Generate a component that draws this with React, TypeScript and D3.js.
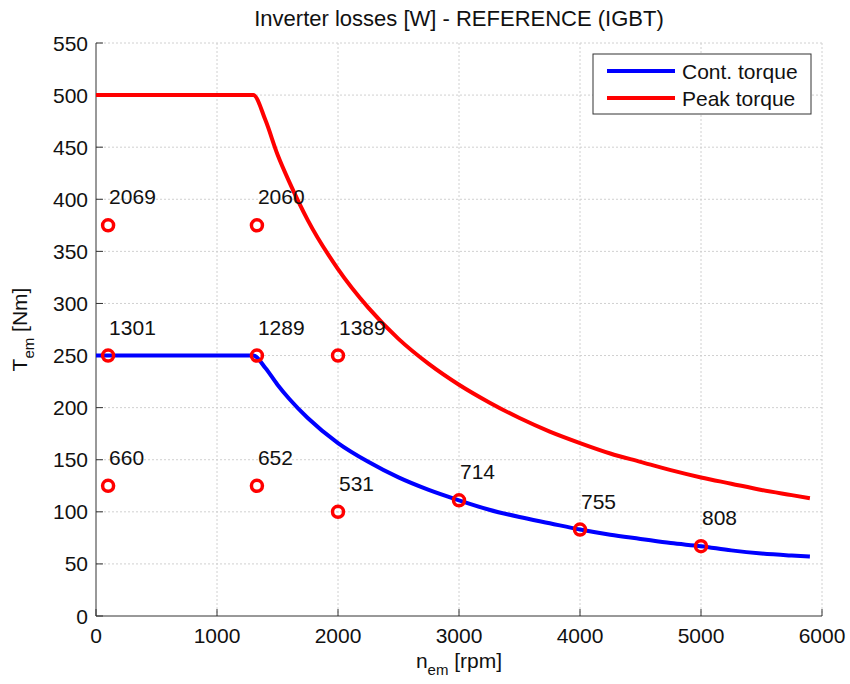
import React, { useEffect, useRef } from 'react';
import * as d3 from 'd3';

const speedRpm = [0, 1300, 1400, 1500, 1600, 1750, 2000, 2250, 2500, 2750, 3000, 3250, 3500, 3750, 4000, 4250, 4500, 4750, 5000, 5250, 5500, 5750, 5900];
const peakTorque = [500, 500, 476, 443, 416, 380, 333, 296, 266, 242, 222, 205, 190, 177, 166, 156, 148, 140, 133, 127, 121, 116, 113];
const contTorque = [250, 250, 238, 222, 208, 190, 166, 148, 133, 121, 111, 102, 95, 89, 83, 78, 74, 70, 67, 63, 60, 58, 57];

const pointRpm = [100, 1330, 100, 1330, 2000, 100, 1330, 2000, 3000, 4000, 5000];
const pointTorque = [375, 375, 250, 250, 250, 125, 125, 100, 111, 83, 67];
const pointLosses = ['2069', '2060', '1301', '1289', '1389', '660', '652', '531', '714', '755', '808'];

const xTicks = [0, 1000, 2000, 3000, 4000, 5000, 6000];
const yTicks = [0, 50, 100, 150, 200, 250, 300, 350, 400, 450, 500, 550];

const App: React.FC = () => {
  const svgRef = useRef<SVGSVGElement>(null);

  useEffect(() => {
    if (!svgRef.current) return;
    const svg = d3.select(svgRef.current);
    svg.selectAll('*').remove();

    const left = 96, right = 822, top = 43, bottom = 616;
    const x = d3.scaleLinear().domain([0, 6000]).range([left, right]);
    const y = d3.scaleLinear().domain([0, 550]).range([bottom, top]);
    const font = 'Liberation Sans, Arial, sans-serif';
    const fs = 21;

    svg.append('rect').attr('width', 850).attr('height', 684).attr('fill', '#fff');

    // grid
    const grid = svg.append('g').attr('stroke', '#d0d0d0').attr('stroke-dasharray', '2,2').attr('stroke-width', 1);
    xTicks.slice(1).forEach(t => {
      grid.append('line').attr('x1', x(t)).attr('x2', x(t)).attr('y1', top).attr('y2', bottom);
    });
    yTicks.slice(1).forEach(t => {
      grid.append('line').attr('x1', left).attr('x2', right).attr('y1', y(t)).attr('y2', y(t));
    });

    // axes
    const ax = svg.append('g').attr('stroke', '#333').attr('stroke-width', 1);
    ax.append('line').attr('x1', left).attr('x2', left).attr('y1', top).attr('y2', bottom);
    ax.append('line').attr('x1', left).attr('x2', right).attr('y1', bottom).attr('y2', bottom);
    xTicks.forEach(t => {
      ax.append('line').attr('x1', x(t)).attr('x2', x(t)).attr('y1', bottom).attr('y2', bottom - 7);
    });
    yTicks.forEach(t => {
      ax.append('line').attr('x1', left).attr('x2', left + 7).attr('y1', y(t)).attr('y2', y(t));
    });

    svg.append('g').selectAll('text').data(xTicks).enter().append('text')
      .attr('x', d => x(d)).attr('y', bottom + 27)
      .attr('text-anchor', 'middle').attr('font-family', font).attr('font-size', fs).attr('fill', '#111')
      .text(d => d);
    svg.append('g').selectAll('text').data(yTicks).enter().append('text')
      .attr('x', left - 8).attr('y', d => y(d)).attr('dy', '0.36em')
      .attr('text-anchor', 'end').attr('font-family', font).attr('font-size', fs).attr('fill', '#111')
      .text(d => d);

    // title and labels
    svg.append('text').attr('x', 459).attr('y', 26).attr('text-anchor', 'middle')
      .attr('font-family', font).attr('font-size', 22).attr('fill', '#111')
      .text('Inverter losses [W] - REFERENCE (IGBT)');

    const xl = svg.append('text').attr('x', 459).attr('y', 668).attr('text-anchor', 'middle')
      .attr('font-family', font).attr('font-size', fs).attr('fill', '#111');
    xl.append('tspan').text('n');
    xl.append('tspan').attr('font-size', 15).attr('dy', 7).text('em');
    xl.append('tspan').attr('dy', -7).text(' [rpm]');

    const yl = svg.append('text').attr('transform', `translate(27, ${(top + bottom) / 2}) rotate(-90)`)
      .attr('text-anchor', 'middle').attr('font-family', font).attr('font-size', fs).attr('fill', '#111');
    yl.append('tspan').text('T');
    yl.append('tspan').attr('font-size', 15).attr('dy', 7).text('em');
    yl.append('tspan').attr('dy', -7).text(' [Nm]');

    // curves
    const line = d3.line<number>().x((_, i) => x(speedRpm[i])).y(d => y(d)).curve(d3.curveMonotoneX);
    svg.append('path').datum(contTorque).attr('d', line).attr('fill', 'none')
      .attr('stroke', '#0000ff').attr('stroke-width', 4).attr('stroke-linejoin', 'round');
    svg.append('path').datum(peakTorque).attr('d', line).attr('fill', 'none')
      .attr('stroke', '#ff0000').attr('stroke-width', 4).attr('stroke-linejoin', 'round');

    // measured points
    const pts = pointRpm.map((n, i) => ({ n, t: pointTorque[i], label: pointLosses[i] }));
    svg.append('g').selectAll('circle').data(pts).enter().append('circle')
      .attr('cx', d => x(d.n)).attr('cy', d => y(d.t)).attr('r', 5.5)
      .attr('fill', 'none').attr('stroke', '#ff0000').attr('stroke-width', 3.5);
    svg.append('g').selectAll('text').data(pts).enter().append('text')
      .attr('x', d => x(d.n) + 1).attr('y', d => y(d.t) - 21)
      .attr('font-family', font).attr('font-size', fs).attr('fill', '#111')
      .text(d => d.label);

    // legend
    const lg = svg.append('g');
    lg.append('rect').attr('x', 593).attr('y', 54).attr('width', 218).attr('height', 60)
      .attr('fill', '#fff').attr('stroke', '#333').attr('stroke-width', 1);
    const items = [{ name: 'Cont. torque', color: '#0000ff' }, { name: 'Peak torque', color: '#ff0000' }];
    items.forEach((it, i) => {
      const yy = 71 + i * 27;
      lg.append('line').attr('x1', 607).attr('x2', 675).attr('y1', yy).attr('y2', yy)
        .attr('stroke', it.color).attr('stroke-width', 4);
      lg.append('text').attr('x', 682).attr('y', yy).attr('dy', '0.36em')
        .attr('font-family', font).attr('font-size', fs).attr('fill', '#111').text(it.name);
    });
  }, []);

  return <svg ref={svgRef} width={850} height={684} style={{ display: 'block', position: 'absolute', left: 0, top: 0 }} />;
};

export default App;
